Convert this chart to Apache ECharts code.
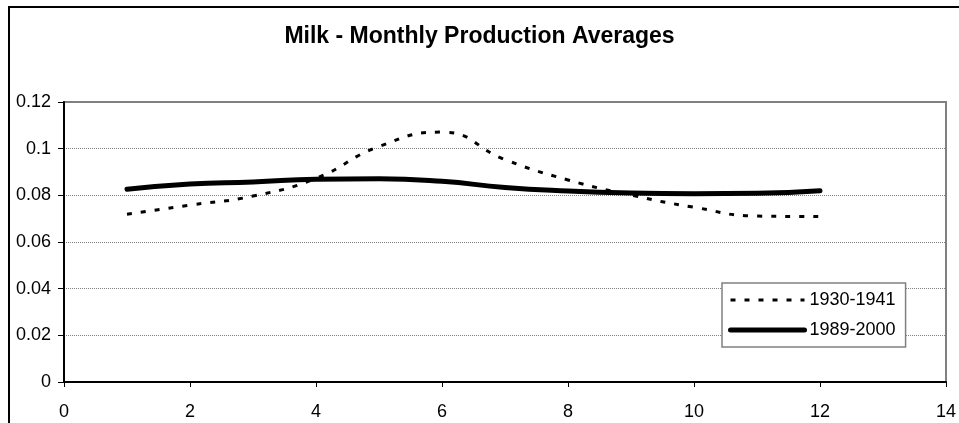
<!DOCTYPE html>
<html>
<head>
<meta charset="utf-8">
<script src="https://cdn.jsdelivr.net/npm/echarts@6/dist/echarts.min.js"></script>
<style>
html,body{margin:0;padding:0;background:#fff;}
#chart{width:959px;height:423px;}
</style>
</head>
<body>
<div id="chart"></div>
<script>
const months = [1, 2, 3, 4, 5, 6, 7, 8, 9, 10, 11, 12];
const series1930 = [0.0719, 0.0758, 0.0797, 0.0873, 0.1009, 0.1071, 0.0953, 0.0866, 0.0801, 0.0749, 0.0711, 0.0709];
const series1989 = [0.0826, 0.0849, 0.0857, 0.0869, 0.0871, 0.0860, 0.0834, 0.0819, 0.0810, 0.0807, 0.0809, 0.0820];
const seriesNames = ['1930-1941', '1989-2000'];
const titleText = 'Milk - Monthly Production Averages';

const font = 'Liberation Sans, Arial, sans-serif';
const chart = echarts.init(document.getElementById('chart'), null, {renderer: 'canvas'});
chart.setOption({
  animation: false,
  backgroundColor: '#fff',
  graphic: [{
    type: 'rect', silent: true, z: -1,
    shape: {x: 9, y: 7, width: 1000, height: 500},
    style: {fill: 'none', stroke: '#000', lineWidth: 2}
  }],
  title: {
    text: titleText, left: 'center', top: 25, padding: 0,
    textStyle: {fontFamily: font, fontWeight: 'bold', fontSize: 23, color: '#000'}
  },
  grid: {
    left: 64, top: 102, right: 12, bottom: 41,
    show: true, borderColor: '#808080', borderWidth: 2, backgroundColor: '#fff'
  },
  xAxis: {
    type: 'value', min: 0, max: 14, interval: 2,
    axisLine: {lineStyle: {color: '#000', width: 2}},
    axisTick: {show: true, length: 5, lineStyle: {color: '#000', width: 1}},
    splitLine: {show: false},
    axisLabel: {fontFamily: font, fontSize: 18, color: '#000', margin: 21}
  },
  yAxis: {
    type: 'value', min: 0, max: 0.12, interval: 0.02,
    axisLine: {show: true, lineStyle: {color: '#000', width: 2}},
    axisTick: {show: true, length: 6, lineStyle: {color: '#000', width: 1}},
    splitLine: {show: true, lineStyle: {color: '#808080', width: 1, type: [1, 1]}},
    axisLabel: {fontFamily: font, fontSize: 18, color: '#000', margin: 13}
  },
  legend: {
    orient: 'vertical', left: 722, top: 283,
    padding: [7, 10, 7, 6], itemGap: 10, itemWidth: 74, itemHeight: 20,
    borderColor: '#808080', borderWidth: 1.5, backgroundColor: '#fff',
    textStyle: {fontFamily: font, fontSize: 18, color: '#000', lineHeight: 20},
    itemTextGap: 4,
    itemStyle: {color: 'transparent', borderWidth: 0, opacity: 0},
    data: [
      {name: seriesNames[0], lineStyle: {width: 3, type: [5, 9], color: '#000'}},
      {name: seriesNames[1], lineStyle: {width: 5, color: '#000'}}
    ]
  },
  series: [
    {
      name: seriesNames[0], type: 'line', smooth: 0.5, symbol: 'none',
      data: months.map((m, i) => [m, series1930[i]]),
      lineStyle: {color: '#000', width: 3, type: [5, 9]},
      itemStyle: {color: '#000'}, z: 3
    },
    {
      name: seriesNames[1], type: 'line', smooth: 0.5, symbol: 'none',
      data: months.map((m, i) => [m, series1989[i]]),
      lineStyle: {color: '#000', width: 5, cap: 'round'},
      itemStyle: {color: '#000'}, z: 2
    }
  ]
});
</script>
</body>
</html>
